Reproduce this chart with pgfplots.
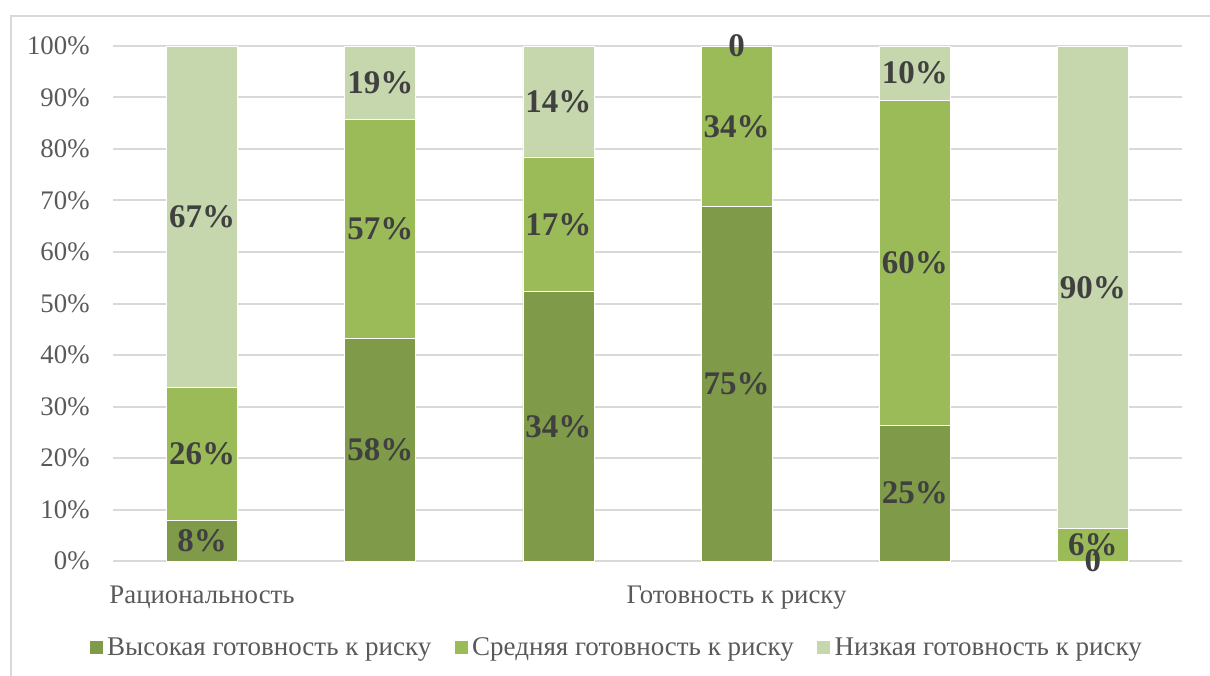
\documentclass[border=0pt]{standalone}
\usepackage{pgfplots}
\pgfplotsset{compat=1.18}
\usepackage{pgfplotstable}
\usepackage{fontspec}
\setmainfont{Liberation Serif}

\definecolor{riskHigh}{HTML}{7F9A48}
\definecolor{riskMid}{HTML}{9BBB59}
\definecolor{riskLow}{HTML}{C6D6AD}
\definecolor{gridgray}{HTML}{D9D9D9}
\definecolor{labelgray}{HTML}{595959}
\definecolor{valuegray}{HTML}{404040}

% answers per group; every bar is scaled to 100 %
\pgfplotstableread{
x high mid low
0 8  26 67
1 58 57 19
2 34 17 14
3 75 34 0
4 25 60 10
5 0  6  90
}\riskdata

\newcommand\rowtotal{(\thisrow{high}+\thisrow{mid}+\thisrow{low})}

\pgfplotsset{
  % frame shared by the bar axis and the label overlay
  riskframe/.style={
    scale only axis, width=534.5pt, height=257.5pt,
    xmin=-0.5, xmax=5.5, ymin=0, ymax=100, clip=false,
    /pgf/number format/assume math mode=true,
  },
  % stacked segment: height = share of the row total
  segment/.style={fill=#1, draw=white, line width=0.4pt},
  % value label in the middle of a segment, showing the raw value
  segmentlabel/.style={
    draw=none, mark=none, point meta=explicit,
    nodes near coords={\pgfmathfloatparsenumber{\pgfplotspointmeta}%
      \pgfmathfloatifflags{\pgfmathresult}{0}{0}{\pgfmathprintnumber{\pgfplotspointmeta}\%}},
    nodes near coords style={font=\bfseries\fontsize{16.5}{18}\selectfont,
      text=valuegray, anchor=center, inner sep=0pt},
  },
}

\begin{document}
\begin{tikzpicture}[x=1pt,y=1pt]
\begin{axis}[
  riskframe,
  ybar stacked, bar width=35.5pt,
  axis line style={draw=none},
  tick style={draw=none},
  major tick length=0pt,
  ymajorgrids, major grid style={gridgray, line width=1pt},
  xtick={0,3}, xticklabels={Рациональность, Готовность к риску},
  ytick={0,10,...,100},
  yticklabel={\pgfmathprintnumber{\tick}\%},
  ticklabel style={font=\fontsize{13.4}{15}\selectfont, text=labelgray},
  yticklabel style={anchor=east, inner sep=0pt, xshift=-11.5pt},
  xticklabel style={anchor=base, inner sep=0pt, yshift=-21pt},
  legend style={at={(0.4724,-0.1689)}, anchor=center, draw=none, fill=none,
    legend columns=3, font=\fontsize{13.5}{15}\selectfont, text=labelgray,
    /tikz/every even column/.append style={column sep=9.5pt},
    nodes={inner sep=2.2pt}},
  legend image code/.code={\fill[#1, draw=none] (0pt,-3.25pt) rectangle (6.5pt,3.25pt);},
]
\addplot[segment=riskHigh]
  table[x=x, y expr={100*\thisrow{high}/\rowtotal}] {\riskdata};
\addplot[segment=riskMid]
  table[x=x, y expr={100*\thisrow{mid}/\rowtotal}] {\riskdata};
\addplot[segment=riskLow]
  table[x=x, y expr={100*\thisrow{low}/\rowtotal}] {\riskdata};
\legend{Высокая готовность к риску, Средняя готовность к риску, Низкая готовность к риску}
\coordinate (plotSW) at (rel axis cs:0,0);
\end{axis}

% value labels at the middle of each segment (zero segments included)
\begin{axis}[riskframe, hide axis]
\addplot[segmentlabel]
  table[x=x, y expr={50*\thisrow{high}/\rowtotal}, meta=high] {\riskdata};
\addplot[segmentlabel]
  table[x=x, y expr={100*(\thisrow{high}+0.5*\thisrow{mid})/\rowtotal}, meta=mid] {\riskdata};
\addplot[segmentlabel]
  table[x=x, y expr={100*(\thisrow{high}+\thisrow{mid}+0.5*\thisrow{low})/\rowtotal}, meta=low] {\riskdata};
\end{axis}

% frame of the chart area and the page, measured from the plot corner
\pgfresetboundingbox
\path[use as bounding box, shift={(plotSW)}] (-56.5,-57) rectangle (548.5,280.5);
\draw[gridgray, line width=0.75pt, shift={(plotSW)}] (-51,-80) -- (-51,272.5) -- (600,272.5);
\end{tikzpicture}
\end{document}
